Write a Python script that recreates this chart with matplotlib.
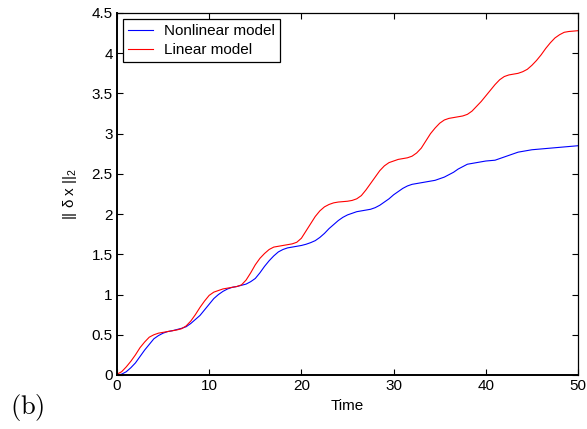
import numpy as np
import matplotlib
matplotlib.use("Agg")
import matplotlib.pyplot as plt

plt.rcParams['font.family'] = ['Liberation Sans', 'DejaVu Sans']
plt.rcParams['mathtext.fontset'] = 'custom'
plt.rcParams['mathtext.rm'] = 'Liberation Sans'
plt.rcParams['mathtext.it'] = 'Liberation Sans:italic'

# values, every half time unit
time = np.arange(0, 50.5, 0.5)
nonlinear = [0.00, 0.01, 0.04, 0.09, 0.15, 0.23, 0.31, 0.38, 0.45, 0.49,
             0.52, 0.54, 0.55, 0.565, 0.58, 0.60, 0.64, 0.69, 0.74, 0.81,
             0.88, 0.95, 1.00, 1.04, 1.07, 1.09, 1.10, 1.115, 1.13, 1.16,
             1.20, 1.27, 1.35, 1.42, 1.48, 1.53, 1.56, 1.58, 1.59, 1.60,
             1.61, 1.625, 1.645, 1.67, 1.71, 1.76, 1.82, 1.87, 1.92, 1.96,
             1.99, 2.01, 2.03, 2.04, 2.05, 2.06, 2.08, 2.11, 2.15, 2.19,
             2.24, 2.28, 2.32, 2.35, 2.37, 2.38, 2.39, 2.40, 2.41, 2.42,
             2.44, 2.46, 2.49, 2.52, 2.56, 2.59, 2.62, 2.63, 2.64, 2.65,
             2.66, 2.665, 2.67, 2.69, 2.71, 2.73, 2.75, 2.77, 2.78, 2.79,
             2.80, 2.805, 2.81, 2.815, 2.82, 2.825, 2.83, 2.835, 2.84, 2.845,
             2.85]
linear = [0.01, 0.04, 0.10, 0.17, 0.25, 0.34, 0.41, 0.47, 0.50, 0.52,
          0.53, 0.54, 0.55, 0.56, 0.575, 0.61, 0.67, 0.75, 0.84, 0.92,
          0.99, 1.03, 1.05, 1.07, 1.08, 1.09, 1.10, 1.12, 1.18, 1.27,
          1.37, 1.45, 1.51, 1.56, 1.59, 1.60, 1.61, 1.62, 1.63, 1.65,
          1.70, 1.79, 1.88, 1.97, 2.04, 2.09, 2.12, 2.14, 2.15, 2.155,
          2.16, 2.17, 2.19, 2.23, 2.30, 2.38, 2.46, 2.54, 2.60, 2.64,
          2.66, 2.68, 2.69, 2.70, 2.72, 2.76, 2.82, 2.91, 3.00, 3.07,
          3.13, 3.17, 3.19, 3.20, 3.21, 3.22, 3.24, 3.28, 3.34, 3.40,
          3.47, 3.54, 3.61, 3.67, 3.71, 3.73, 3.74, 3.75, 3.77, 3.80,
          3.85, 3.91, 3.98, 4.06, 4.13, 4.19, 4.23, 4.26, 4.27, 4.275,
          4.28]

xticks = [0, 10, 20, 30, 40, 50]
yticks = [0, 0.5, 1, 1.5, 2, 2.5, 3, 3.5, 4, 4.5]
ytick_labels = ['0', '0.5', '1', '1.5', '2', '2.5', '3', '3.5', '4', '4.5']

fig = plt.figure(figsize=(5.87, 4.29), dpi=100)
ax = fig.add_axes([0.1993, 0.1259, 0.7854, 0.8438])

ax.plot(time, nonlinear, color='#0000ff', lw=0.8, label='Nonlinear model')
ax.plot(time, linear, color='#ff0000', lw=0.8, label='Linear model')

ax.set_xlim(0, 50)
ax.set_ylim(0, 4.5)
ax.set_xticks(xticks)
ax.set_yticks(yticks)
ax.set_yticklabels(ytick_labels)
ax.tick_params(direction='in', top=True, right=True, length=4, width=0.8,
               labelsize=11, pad=3)
for s in ax.spines.values():
    s.set_linewidth(0.9)
ax.spines['left'].set_linewidth(1.4)
ax.spines['bottom'].set_linewidth(1.4)

ax.set_xlabel('Time', fontsize=11, labelpad=4)
ax.set_ylabel(r'$\mathrm{||\ \delta\ x\ ||_2}$', fontsize=11, labelpad=9)

leg = ax.legend(loc='upper left', fontsize=11, fancybox=False,
                framealpha=1, edgecolor='black', borderaxespad=0.4,
                handlelength=1.6, handletextpad=0.7, borderpad=0.35,
                labelspacing=0.3)
leg.get_frame().set_linewidth(0.9)

fig.text(0.017, 0.05, r'$\mathrm{(b)}$', fontsize=19, math_fontfamily='cm',
         va='center', ha='left')

fig.savefig('out.png', dpi=100)
